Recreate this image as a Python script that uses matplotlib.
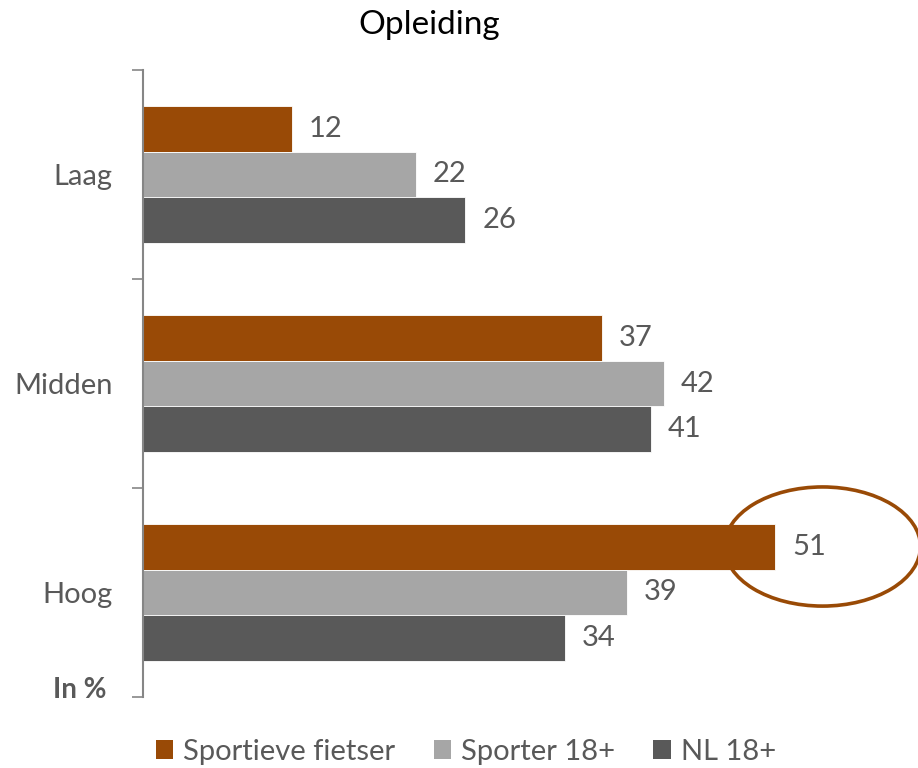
import numpy as np
import matplotlib.pyplot as plt
from matplotlib.patches import Ellipse, Patch

plt.rcParams['font.family'] = ['Lato', 'DejaVu Sans']

categories = ['Laag', 'Midden', 'Hoog']
series = ['Sportieve fietser', 'Sporter 18+', 'NL 18+']
sportieve = [12, 37, 51]
sporter = [22, 42, 39]
nl = [26, 41, 34]
colors = ['#994A06', '#A6A6A6', '#595959']
txt = '#595959'

fig = plt.figure(figsize=(9.18, 7.68), dpi=100)
ax = fig.add_axes([143 / 918, 1 - 697 / 768, 1 - 143 / 918, (697 - 70) / 768])

y = np.arange(len(categories))
h = 0.22
for i, (vals, c) in enumerate(zip([sportieve, sporter, nl], colors)):
    pos = y + (i - 1) * h
    ax.barh(pos, vals, height=h, color=c, edgecolor='white', linewidth=0.6)
    for p, v in zip(pos, vals):
        ax.text(v + 1.35, p, str(v), va='center', ha='left', fontsize=21, color=txt)

ax.set_xlim(0, 62.5)
ax.set_ylim(2.5, -0.5)
ax.set_yticks([-0.5, 0.5, 1.5, 2.5])
ax.set_yticklabels([])
ax.set_yticks(y, minor=True)
ax.set_yticklabels(categories, minor=True, fontsize=21, color=txt)
ax.tick_params(axis='y', which='major', length=8, color='#868686', width=1.2)
ax.tick_params(axis='y', which='minor', length=0, pad=22)
ax.set_xticks([])
for s in ['top', 'right', 'bottom']:
    ax.spines[s].set_visible(False)
ax.spines['left'].set_color('#868686')
ax.spines['left'].set_linewidth(1.5)

# highlight the highest value
ax.add_patch(Ellipse((54.8, 2 - h), 15.8, 0.57, fill=False,
                     edgecolor=colors[0], linewidth=2.6, clip_on=True))

fig.text(429 / 918, 1 - 25 / 768, 'Opleiding', ha='center', va='center', fontsize=24, color='black')
fig.text(80 / 918, 1 - 690 / 768, 'In %', ha='center', va='center', fontsize=20,
         fontweight='bold', color=txt)

handles = [Patch(facecolor=c, edgecolor='none') for c in colors]
leg = fig.legend(handles, series, loc='center', bbox_to_anchor=(466 / 918, 1 - 752 / 768),
                 ncol=3, frameon=False, fontsize=21, handlelength=0.6, handleheight=0.6,
                 handletextpad=0.35, columnspacing=1.3)
for t in leg.get_texts():
    t.set_color(txt)

fig.savefig('out.png', dpi=100)
